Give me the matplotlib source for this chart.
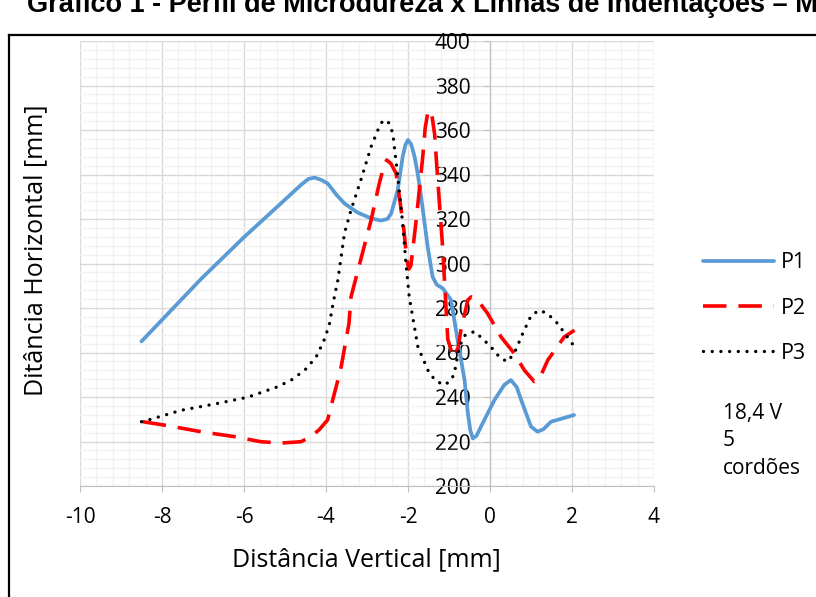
import matplotlib
matplotlib.use("Agg")
import matplotlib.pyplot as plt
from matplotlib.ticker import MultipleLocator
from matplotlib.lines import Line2D

plt.rcParams['font.family'] = ['Open Sans', 'DejaVu Sans']
plt.rcParams['axes.unicode_minus'] = False

# P1
p1_x = [-8.5, -7.05, -5.99, -5.1, -4.6, -4.43, -4.28, -4.12, -3.96, -3.75, -3.55, -3.23, -2.9,
        -2.66, -2.5, -2.41, -2.25, -2.13, -2.06, -2.0, -1.92, -1.84, -1.76, -1.68, -1.52,
        -1.4, -1.3, -1.15, -0.95, -0.79, -0.62, -0.54, -0.48, -0.42, -0.33, -0.22, 0.11,
        0.35, 0.51, 0.65, 0.76, 1.0, 1.16, 1.3, 1.49, 2.05]
p1_y = [265, 293, 312, 327, 335.5, 338, 338.6, 337.6, 336, 331, 327, 322.9, 320.3,
        319.3, 320, 322.5, 333, 348, 353.5, 355.5, 353.5, 348, 340, 330, 307.5,
        294, 290.5, 288.8, 283.6, 265.6, 247.6, 232.7, 225, 221.4, 222.5, 226.7, 238.7,
        245.5, 247.6, 244.5, 238.7, 226.7, 224.4, 225.5, 228.9, 231.9]

# P2
p2_x = [-8.47, -7.82, -7.05, -6.24, -5.59, -5.1, -4.61, -4.37, -4.17, -3.96, -3.88, -3.71,
        -3.63, -3.44, -3.39, -2.9, -2.7, -2.6, -2.52, -2.42, -2.29, -2.1, -2.03, -1.98,
        -1.93, -1.8, -1.64, -1.58, -1.52, -1.47, -1.42, -1.35, -1.28, -1.15, -1.1, -1.03,
        -0.9, -0.78, -0.71, -0.54, -0.46, -0.3, -0.06, 0.27, 0.59, 0.84, 1.08, 1.2, 1.41,
        1.81, 2.06]
p2_y = [228.9, 227, 224.4, 222.2, 219.9, 219.3, 219.9, 222.2, 225.2, 229.7, 235.6, 247.6,
        253.6, 273, 285, 319.5, 336, 343, 346.5, 345, 340.5, 315, 302, 297.5,
        299, 319.5, 348, 361, 367.5, 369, 367, 358, 339, 306, 289, 266,
        258, 262, 270, 283.6, 285, 283.5, 277.6, 267, 259.6, 252, 246.9, 248, 256.6,
        267, 270]

# P3
p3_x = [-8.5, -8.27, -7.54, -6.73, -5.91, -5.18, -4.81, -4.49, -4.24, -4.06, -3.92, -3.82,
        -3.71, -3.55, -3.39, -3.15, -2.9, -2.7, -2.62, -2.54, -2.46, -2.37, -2.25, -2.13,
        -2.05, -1.97, -1.76, -1.48, -1.3, -1.11, -0.95, -0.87, -0.75, -0.6, -0.38, -0.2,
        0.02, 0.25, 0.43, 0.6, 0.8, 1.0, 1.2, 1.4, 1.65, 2.06]
p3_y = [228.9, 230, 234, 236.8, 239.9, 244.6, 248, 252.6, 258, 264.9, 272.4, 282.8,
        292.6, 313.6, 324, 337.5, 352.5, 361.5, 364, 364.5, 363, 358.5, 339, 318,
        300, 285, 262.6, 250.6, 247, 245.4, 247.5, 250.6, 262.6, 268, 269.4, 266.5,
        262.6, 257.5, 255.9, 260, 268.6, 276.5, 279, 277.5, 273, 262.6]

title = "Gráfico 1 - Perfil de Microdureza x Linhas de Indentações – M1"
note = "18,4 V\n5\ncordões"

W, H = 816, 597
fig = plt.figure(figsize=(W / 100, H / 100), dpi=100)
ax = fig.add_axes([80 / W, 1 - 486 / H, 574 / W, 445 / H])

l1, = ax.plot(p1_x, p1_y, color='#5B9BD5', lw=2.7, solid_capstyle='round',
              solid_joinstyle='round', label='P1', zorder=3)
l2, = ax.plot(p2_x, p2_y, color='#FF0000', lw=2.6, ls=(0, (6.5, 3.3)), label='P2', zorder=3)
l3, = ax.plot(p3_x, p3_y, color='black', lw=2.4, ls=(0, (0.01, 2.6)),
              dash_capstyle='round', label='P3', zorder=3)

ax.set_xlim(-10, 4)
ax.set_ylim(200, 400)
ax.xaxis.set_major_locator(MultipleLocator(2))
ax.xaxis.set_minor_locator(MultipleLocator(0.4))
ax.yaxis.set_major_locator(MultipleLocator(20))
ax.yaxis.set_minor_locator(MultipleLocator(4))
ax.set_axisbelow(True)
ax.grid(which='minor', color='#F2F2F2', lw=1)
ax.grid(which='major', color='#D9D9D9', lw=1)

for s in ['top', 'right']:
    ax.spines[s].set_visible(False)
ax.spines['left'].set_position(('data', 0))
ax.spines['left'].set_color('#BFBFBF')
ax.spines['bottom'].set_color('#BFBFBF')
ax.tick_params(which='minor', length=0)
ax.tick_params(which='major', direction='out', length=4, color='#BFBFBF', labelsize=15)
ax.tick_params(axis='y', pad=10)
ax.tick_params(axis='x', pad=11)

fig.text(366 / W, 1 - 560 / H, "Distância Vertical [mm]", ha='center', va='center', fontsize=18)
fig.text(36 / W, 1 - 250 / H, "Ditância Horizontal [mm]", ha='center', va='center',
         rotation=90, fontsize=18)

ax.legend(handles=[l1, l2, l3], loc='center left', bbox_to_anchor=(684 / W, 1 - 308 / H),
          bbox_transform=fig.transFigure, frameon=False, fontsize=15.5,
          handlelength=3.3, labelspacing=1.12, handletextpad=0.3)

fig.text(723 / W, 1 - 403 / H, note, ha='left', va='top', fontsize=15, linespacing=1.4)

# outer frame and cut title
fig.add_artist(Line2D([9 / W, 9 / W], [0, 1 - 35 / H], color='black', lw=1.6))
fig.add_artist(Line2D([9 / W, 1], [1 - 35 / H, 1 - 35 / H], color='black', lw=1.6))
fig.text(27 / W, 1 - 12 / H, title, ha='left', va='baseline', fontsize=19.5,
         fontweight='bold', family=['Liberation Sans', 'DejaVu Sans'])

fig.savefig("out.png", dpi=100)
